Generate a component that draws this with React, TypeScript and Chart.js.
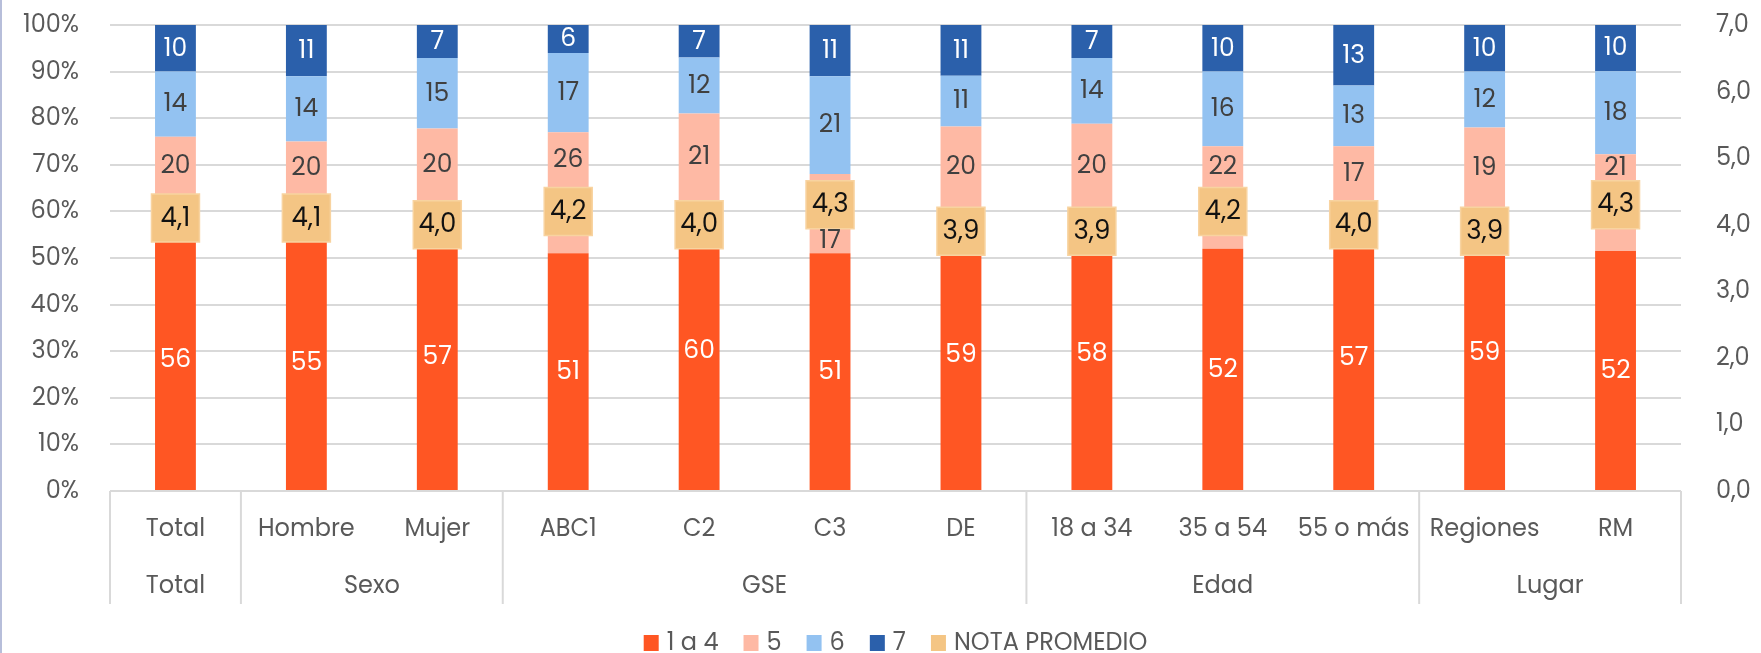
import React, { useEffect, useRef } from 'react';
import { Chart, registerables } from 'chart.js';

Chart.register(...registerables);

const categories = ['Total', 'Hombre', 'Mujer', 'ABC1', 'C2', 'C3', 'DE', '18 a 34', '35 a 54', '55 o más', 'Regiones', 'RM'];
const groupNames = ['Total', 'Sexo', 'GSE', 'Edad', 'Lugar'];
const groupSizes = [1, 2, 4, 3, 2];

const serie1a4 = [56, 55, 57, 51, 60, 51, 59, 58, 52, 57, 59, 52];
const serie5 = [20, 20, 20, 26, 21, 17, 20, 20, 22, 17, 19, 21];
const serie6 = [14, 14, 15, 17, 12, 21, 11, 14, 16, 13, 12, 18];
const serie7 = [10, 11, 7, 6, 7, 11, 11, 7, 10, 13, 10, 10];
const notaPromedio = [4.1, 4.1, 4.0, 4.2, 4.0, 4.3, 3.9, 3.9, 4.2, 4.0, 3.9, 4.3];

const seriesNames = ['1 a 4', '5', '6', '7', 'NOTA PROMEDIO'];
const seriesColors = ['#FF5623', '#FEB9A4', '#93C2F1', '#2B60AB', '#F4C584'];
const labelColors = ['#FFFFFF', '#404040', '#404040', '#FFFFFF'];

const FONT = "Poppins, 'Open Sans', sans-serif";
const FS = 24;
const FS_LABEL = 25;
const FS_NOTA = 26;
const GRID = '#D9D9D9';
const TEXT = '#595959';
const MARKER_SIDE = 48;

const rawSeries = [serie1a4, serie5, serie6, serie7];
const totals = categories.map((_, i) => rawSeries.reduce((s, arr) => s + arr[i], 0));
const pct = (arr: number[]) => arr.map((v, i) => (v / totals[i]) * 100);
const fmt1 = (v: number) => v.toFixed(1).replace('.', ',');

const customPlugin = {
  id: 'customDraw',
  beforeDraw(chart: any) {
    const ctx = chart.ctx;
    ctx.save();
    ctx.fillStyle = '#FFFFFF';
    ctx.fillRect(0, 0, chart.width, chart.height);
    ctx.fillStyle = '#B7BEDA';
    ctx.fillRect(0, 0, 2, chart.height);
    ctx.restore();
  },
  afterDatasetsDraw(chart: any) {
    const ctx = chart.ctx;
    const pointMeta = chart.getDatasetMeta(4);
    const half = MARKER_SIDE / 2;
    ctx.save();
    ctx.font = `${FS_LABEL}px ${FONT}`;
    ctx.textAlign = 'center';
    ctx.textBaseline = 'middle';
    for (let d = 0; d < 4; d++) {
      const meta = chart.getDatasetMeta(d);
      meta.data.forEach((bar: any, i: number) => {
        const p = bar.getProps(['x', 'y', 'base'], true);
        const top = Math.min(p.y, p.base);
        const bottom = Math.max(p.y, p.base);
        let cy = (top + bottom) / 2;
        if (d === 1) {
          const pt = pointMeta.data[i];
          const mTop = pt.y - half;
          const mBot = pt.y + half;
          if (mTop < bottom && mBot > top) {
            const above = Math.max(0, mTop - top);
            const below = Math.max(0, bottom - mBot);
            cy = above >= below ? (top + mTop) / 2 : (mBot + bottom) / 2;
          }
        }
        ctx.fillStyle = labelColors[d];
        ctx.fillText(String(rawSeries[d][i]), p.x, cy + 1);
      });
    }
    ctx.font = `${FS_NOTA}px ${FONT}`;
    ctx.fillStyle = '#111111';
    pointMeta.data.forEach((pt: any, i: number) => {
      ctx.fillText(fmt1(notaPromedio[i]), pt.x, pt.y + 1);
    });
    ctx.restore();
  },
  afterDraw(chart: any) {
    const ctx = chart.ctx;
    const area = chart.chartArea;
    const xs = chart.scales.x;
    const ys = chart.scales.y;
    const ys1 = chart.scales.y1;
    const catW = (area.right - area.left) / categories.length;
    ctx.save();
    ctx.font = `${FS}px ${FONT}`;
    ctx.fillStyle = TEXT;
    ctx.textBaseline = 'middle';
    ctx.textAlign = 'right';
    ys.ticks.forEach((t: any) => {
      ctx.fillText(`${t.value}%`, area.left - 31, ys.getPixelForValue(t.value) + 1);
    });
    ctx.textAlign = 'left';
    ys1.ticks.forEach((t: any) => {
      ctx.fillText(fmt1(t.value), area.right + 35, ys1.getPixelForValue(t.value) + 1);
    });
    ctx.strokeStyle = GRID;
    ctx.lineWidth = 2;
    const sepBottom = area.bottom + 113;
    let idx = 0;
    const bounds: number[] = [xs.getPixelForValue(0) - catW / 2];
    groupSizes.forEach((n) => {
      idx += n;
      bounds.push(xs.getPixelForValue(idx - 1) + catW / 2);
    });
    bounds.forEach((bx) => {
      ctx.beginPath();
      ctx.moveTo(bx, area.bottom);
      ctx.lineTo(bx, sepBottom);
      ctx.stroke();
    });
    ctx.textAlign = 'center';
    categories.forEach((c, i) => {
      ctx.fillText(c, xs.getPixelForValue(i), area.bottom + 39);
    });
    groupNames.forEach((g, gi) => {
      ctx.fillText(g, (bounds[gi] + bounds[gi + 1]) / 2, area.bottom + 96);
    });
    const boxW = 15, boxH = 16, gapBT = 8, gapItem = 25;
    const widths = seriesNames.map((n) => ctx.measureText(n).width);
    const total = widths.reduce((s, w) => s + boxW + gapBT + w, 0) + gapItem * (seriesNames.length - 1);
    let lx = (area.left + area.right) / 2 - total / 2;
    const ly = 643;
    ctx.textAlign = 'left';
    seriesNames.forEach((n, i) => {
      ctx.fillStyle = seriesColors[i];
      ctx.fillRect(lx, ly - boxH / 2, boxW, boxH);
      lx += boxW + gapBT;
      ctx.fillStyle = TEXT;
      ctx.fillText(n, lx, ly + 1);
      lx += widths[i] + gapItem;
    });
    ctx.restore();
  },
};

export default function App() {
  const ref = useRef<HTMLCanvasElement | null>(null);
  useEffect(() => {
    document.body.style.margin = '0';
    if (!ref.current) return;
    const barDs = (k: number) => ({
      type: 'bar' as const,
      label: seriesNames[k],
      data: pct(rawSeries[k]),
      backgroundColor: seriesColors[k],
      yAxisID: 'y',
      order: 1,
      categoryPercentage: 1,
      barPercentage: 0.312,
    });
    const chart = new Chart(ref.current, {
      data: {
        labels: categories,
        datasets: [
          barDs(0),
          barDs(1),
          barDs(2),
          barDs(3),
          {
            type: 'line',
            label: seriesNames[4],
            data: notaPromedio,
            yAxisID: 'y1',
            showLine: false,
            order: 0,
            clip: false,
            pointStyle: 'rect',
            pointRadius: MARKER_SIDE / Math.SQRT2,
            pointHoverRadius: MARKER_SIDE / Math.SQRT2,
            pointBackgroundColor: '#F4C584',
            pointBorderColor: '#F8D3A0',
            pointBorderWidth: 1.5,
          } as any,
        ],
      },
      options: {
        responsive: false,
        animation: false,
        devicePixelRatio: 1,
        events: [],
        layout: { autoPadding: false, padding: { top: 25, bottom: 0, left: 0, right: 0 } },
        plugins: { legend: { display: false }, tooltip: { enabled: false } },
        scales: {
          x: {
            stacked: true,
            grid: { display: false },
            border: { display: false },
            ticks: { display: false },
            afterFit: (s: any) => { s.height = 162; },
          },
          y: {
            stacked: true,
            position: 'left',
            min: 0,
            max: 100,
            ticks: { stepSize: 10, display: false },
            grid: { color: GRID, lineWidth: 2, drawTicks: false },
            border: { display: false },
            afterFit: (s: any) => { s.width = 110; s.paddingTop = 0; s.paddingBottom = 0; },
          },
          y1: {
            position: 'right',
            min: 0,
            max: 7,
            ticks: { stepSize: 1, display: false },
            grid: { display: false, drawTicks: false },
            border: { display: false },
            afterFit: (s: any) => { s.width = 80; s.paddingTop = 0; s.paddingBottom = 0; },
          },
        },
      } as any,
      plugins: [customPlugin],
    });
    return () => chart.destroy();
  }, []);
  return (
    <div style={{ width: 1761, height: 653 }}>
      <canvas ref={ref} width={1761} height={653} style={{ display: 'block' }} />
    </div>
  );
}
